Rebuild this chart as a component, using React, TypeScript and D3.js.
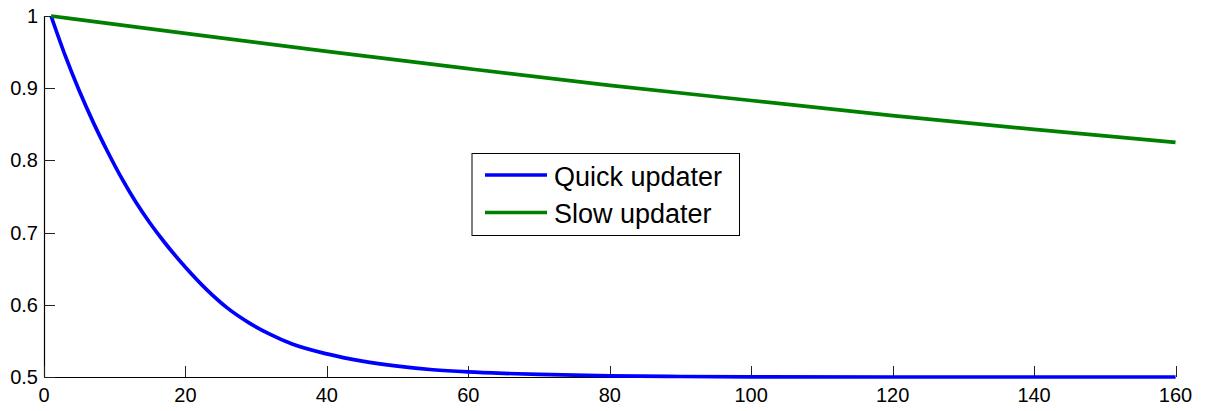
import React from 'react';
import * as d3 from 'd3';

// values
const quickX = [1, 3, 5, 7, 9, 11, 13, 15, 17, 20, 23, 26, 29, 32, 35, 40, 45, 50, 55, 60, 65, 70, 80, 90, 100, 120, 140, 160];
const quickY = [1.0, 0.945, 0.896, 0.852, 0.812, 0.775, 0.742, 0.713, 0.687, 0.652, 0.621, 0.595, 0.575, 0.559, 0.546, 0.532, 0.522, 0.515, 0.510, 0.507, 0.505, 0.5035, 0.5015, 0.5007, 0.5003, 0.5, 0.5, 0.5];

const slowX = [1, 20, 40, 60, 80, 100, 120, 140, 160];
const slowY = [1.0, 0.976, 0.951, 0.927, 0.904, 0.883, 0.862, 0.843, 0.825];

const xTicks = [0, 20, 40, 60, 80, 100, 120, 140, 160];
const yTicks = [0.5, 0.6, 0.7, 0.8, 0.9, 1];

const seriesNames = ['Quick updater', 'Slow updater'];
const seriesColors = ['#0000ff', '#008000'];

const W = 1212;
const H = 411;
const FONT = '"Liberation Sans", Arial, Helvetica, sans-serif';

const App = () => {
    const x = d3.scaleLinear().domain([0, 160]).range([44, 1175.5]);
    const y = d3.scaleLinear().domain([0.5, 1]).range([377, 16]);

    const line = d3.line<[number, number]>()
        .x(d => x(d[0]))
        .y(d => y(d[1]))
        .curve(d3.curveMonotoneX);

    const quick = quickX.map((v, i) => [v, quickY[i]] as [number, number]);
    const slow = slowX.map((v, i) => [v, slowY[i]] as [number, number]);
    const series = [quick, slow];

    const tickLen = 11;
    const [x0, x1] = x.range();
    const [y0, y1] = y.range();

    // legend box
    const lg = { left: 472, top: 153.5, right: 739.5, bottom: 235.5 };
    const rowY = [175, 212.5];

    return (
        <svg width={W} height={H} style={{ position: 'absolute', left: 0, top: 0, background: '#fff' }}
            fontFamily={FONT}>
            <rect x={0} y={0} width={W} height={H} fill="#fff" />

            {/* axes */}
            <line x1={x0} x2={x1} y1={y0 + 0.5} y2={y0 + 0.5} stroke="#000" strokeWidth={1.2} />
            <line x1={x0 + 0.5} x2={x0 + 0.5} y1={y1} y2={y0} stroke="#000" strokeWidth={1.2} />

            {xTicks.map(t => (
                <g key={'x' + t}>
                    <line x1={Math.round(x(t)) + 0.5} x2={Math.round(x(t)) + 0.5} y1={y0} y2={y0 - tickLen}
                        stroke="#222" strokeWidth={1} />
                    <text x={x(t)} y={402} textAnchor="middle" fontSize={20} fill="#000">{t}</text>
                </g>
            ))}
            {yTicks.map(t => (
                <g key={'y' + t}>
                    <line x1={x0} x2={x0 + tickLen} y1={Math.round(y(t)) + 0.5} y2={Math.round(y(t)) + 0.5}
                        stroke="#222" strokeWidth={1} />
                    <text x={38} y={y(t) + 7} textAnchor="end" fontSize={20} fill="#000">{d3.format('~g')(t)}</text>
                </g>
            ))}

            {/* data lines */}
            {series.map((s, i) => (
                <path key={seriesNames[i]} d={line(s) || ''} fill="none" stroke={seriesColors[i]}
                    strokeWidth={3.7} strokeLinejoin="round" />
            ))}

            {/* legend */}
            <rect x={lg.left} y={lg.top} width={lg.right - lg.left} height={lg.bottom - lg.top}
                fill="#fff" stroke="#000" strokeWidth={1} />
            {seriesNames.map((n, i) => (
                <g key={'lg' + n}>
                    <line x1={485} x2={547} y1={rowY[i]} y2={rowY[i]} stroke={seriesColors[i]} strokeWidth={3.7} />
                    <text x={554} y={rowY[i] + 10.5} fontSize={27} fill="#000">{n}</text>
                </g>
            ))}
        </svg>
    );
};

export default App;
